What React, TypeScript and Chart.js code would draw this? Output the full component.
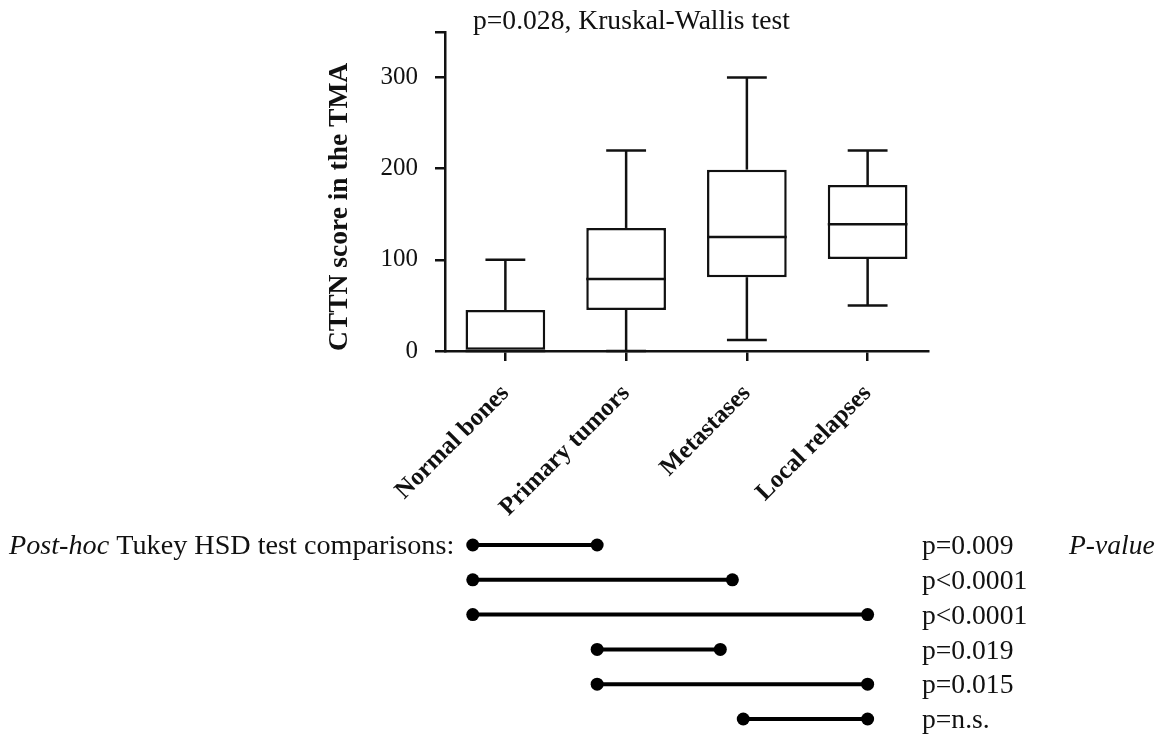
import React, { useEffect, useRef } from 'react';
import { Chart, registerables } from 'chart.js';

Chart.register(...registerables);

// ---------- data ----------
const categories = ['Normal bones', 'Primary tumors', 'Metastases', 'Local relapses'];
const whiskerMin = [0, 0, 12, 50];
const q1 = [0, 45, 81, 101];
const median = [0, 79, 125, 139];
const q3 = [45, 135, 199, 182];
const whiskerMax = [100, 220, 300, 220];
const yTicks = [0, 100, 200, 300, 350];
const yMax = 350;
const kwTitle = 'p=0.028, Kruskal-Wallis test';
const yTitle = 'CTTN score in the TMA';

// post-hoc comparisons (positions in category-index units, rows top to bottom)
const compFrom = [-0.27, -0.27, -0.27, 0.76, 0.76, 1.97];
const compTo = [0.76, 1.88, 3.0, 1.78, 3.0, 3.0];
const compP = ['p=0.009', 'p<0.0001', 'p<0.0001', 'p=0.019', 'p=0.015', 'p=n.s.'];
const compLabelItalic = 'Post-hoc';
const compLabelRest = ' Tukey HSD test comparisons:';
const pHeader = 'P-value';

const FAMILY = "'Liberation Serif', 'Times New Roman', Times, serif";
const INK = '#111';
const W = 1168;
const TOP_H = 525;
const BOT_H = 210;
const TXT = 27.6;

const boxPlugin = {
  id: 'boxWhiskers',
  afterDatasetsDraw(chart: any) {
    const { ctx } = chart;
    const xs = chart.scales.x;
    const ys = chart.scales.y;
    const meta = chart.getDatasetMeta(0);
    ctx.save();
    ctx.strokeStyle = INK;
    ctx.lineWidth = 2.5;
    ctx.lineCap = 'butt';
    categories.forEach((_, i) => {
      const x = xs.getPixelForValue(i);
      const half = meta.data[i].width / 2;
      const cap = half / 2;
      const line = (x1: number, y1: number, x2: number, y2: number) => {
        ctx.beginPath();
        ctx.moveTo(x1, y1);
        ctx.lineTo(x2, y2);
        ctx.stroke();
      };
      const yMed = ys.getPixelForValue(median[i]);
      line(x - half, yMed, x + half, yMed);
      if (whiskerMax[i] > q3[i]) {
        const yTop = ys.getPixelForValue(whiskerMax[i]);
        line(x, ys.getPixelForValue(q3[i]), x, yTop);
        line(x - cap, yTop, x + cap, yTop);
      }
      if (whiskerMin[i] < q1[i]) {
        const yBot = ys.getPixelForValue(whiskerMin[i]);
        line(x, ys.getPixelForValue(q1[i]), x, yBot);
        line(x - cap, yBot, x + cap, yBot);
      }
    });
    // top annotation
    ctx.fillStyle = INK;
    ctx.font = `${TXT}px ${FAMILY}`;
    ctx.textAlign = 'left';
    ctx.textBaseline = 'alphabetic';
    ctx.fillText(kwTitle, chart.chartArea.left + 28, 29);
    ctx.restore();
  },
};

const compTextPlugin = {
  id: 'compText',
  afterDraw(chart: any) {
    const { ctx } = chart;
    const ys = chart.scales.y;
    ctx.save();
    ctx.fillStyle = INK;
    ctx.textBaseline = 'middle';
    ctx.textAlign = 'left';
    const y0 = ys.getPixelForValue(0) + 2;
    ctx.font = `italic ${TXT + 0.6}px ${FAMILY}`;
    ctx.fillText(compLabelItalic, 9, y0);
    const w = ctx.measureText(compLabelItalic).width;
    ctx.font = `${TXT + 0.6}px ${FAMILY}`;
    ctx.fillText(compLabelRest, 9 + w, y0);
    ctx.font = `${TXT}px ${FAMILY}`;
    compP.forEach((p, i) => {
      ctx.fillText(p, 922, ys.getPixelForValue(i) + 2);
    });
    ctx.font = `italic ${TXT}px ${FAMILY}`;
    ctx.fillText(pHeader, 1069, y0);
    ctx.restore();
  },
};

export default function App() {
  const topRef = useRef<HTMLCanvasElement>(null);
  const botRef = useRef<HTMLCanvasElement>(null);

  useEffect(() => {
    const top = new Chart(topRef.current as HTMLCanvasElement, {
      type: 'bar',
      data: {
        labels: categories,
        datasets: [
          {
            data: q1.map((v, i) => [v, q3[i]]) as any,
            backgroundColor: '#ffffff',
            borderColor: INK,
            borderWidth: 2.5,
            borderSkipped: false,
            barPercentage: 0.66,
            categoryPercentage: 1,
          },
        ],
      },
      options: {
        responsive: false,
        animation: false,
        layout: { padding: { left: 323, right: 240, top: 31, bottom: 0 } },
        plugins: {
          legend: { display: false },
          tooltip: { enabled: false },
          title: { display: false },
        },
        scales: {
          x: {
            offset: true,
            grid: { offset: false, drawOnChartArea: false, tickLength: 10, color: INK, lineWidth: 2.5 },
            border: { color: INK, width: 2.5 },
            ticks: {
              maxRotation: 45,
              minRotation: 45,
              autoSkip: false,
              padding: 18,
              color: INK,
              font: { family: FAMILY, size: 25, weight: 'bold' },
            },
            afterFit: (s: any) => {
              s.height = 174;
            },
          },
          y: {
            min: 0,
            max: yMax,
            afterBuildTicks: (s: any) => {
              s.ticks = yTicks.map((v) => ({ value: v }));
            },
            grid: { drawOnChartArea: false, tickLength: 10, color: INK, lineWidth: 2.5 },
            border: { color: INK, width: 2.5 },
            ticks: {
              padding: 17,
              color: INK,
              font: { family: FAMILY, size: 25 },
              callback: (v: any) => (v === yMax ? '' : String(v)),
            },
            title: {
              display: true,
              text: yTitle,
              color: INK,
              align: 'start',
              padding: 0,
              font: { family: FAMILY, size: 27.5, weight: 'bold' },
            },
            afterFit: (s: any) => {
              s.width = 122;
            },
          },
        },
      },
      plugins: [boxPlugin],
    } as any);

    const bot = new Chart(botRef.current as HTMLCanvasElement, {
      type: 'scatter',
      data: {
        datasets: compFrom.map((f, i) => ({
          data: [
            { x: f, y: i },
            { x: compTo[i], y: i },
          ],
          showLine: true,
          borderColor: '#000',
          backgroundColor: '#000',
          borderWidth: 4,
          pointRadius: 6.5,
          pointBorderWidth: 0,
          pointBackgroundColor: '#000',
          clip: false,
        })),
      },
      options: {
        responsive: false,
        animation: false,
        layout: { padding: { left: 445, right: 240, top: 20, bottom: 16 } },
        plugins: { legend: { display: false }, tooltip: { enabled: false } },
        scales: {
          x: { type: 'linear', display: false, min: -0.5, max: 3.5 },
          y: { type: 'linear', display: false, min: 0, max: 5, reverse: true },
        },
      },
      plugins: [compTextPlugin],
    } as any);

    return () => {
      top.destroy();
      bot.destroy();
    };
  }, []);

  return (
    <div style={{ position: 'fixed', left: 0, top: 0, width: W, height: TOP_H + BOT_H, background: '#fff' }}>
      <canvas ref={topRef} width={W} height={TOP_H} style={{ position: 'absolute', left: 0, top: 0 }} />
      <canvas ref={botRef} width={W} height={BOT_H} style={{ position: 'absolute', left: 0, top: TOP_H }} />
    </div>
  );
}
